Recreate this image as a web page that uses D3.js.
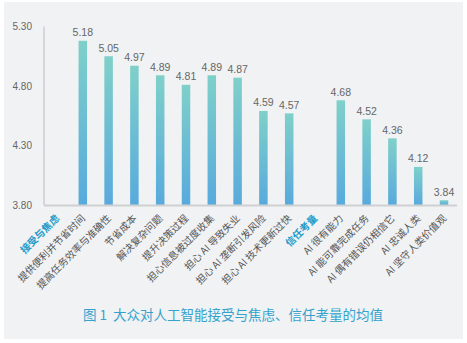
<!DOCTYPE html>
<meta charset="utf-8">
<script src="https://d3js.org/d3.v7.min.js"></script>
<style>
  body { margin: 0; background: #fff; }
</style>
<div id="my_dataviz"></div>
<script>

// categories (headers have no value)
var categories = ["接受与焦虑", "提供便利并节省时间", "提高任务效率与准确性", "节省成本", "解决复杂问题",
  "提升决策过程", "担心信息被过度收集", "担心 AI 导致失业", "担心 AI 垄断引发风险", "担心 AI 技术更新过快",
  "信任考量", "AI 很有能力", "AI 能可靠完成任务", "AI 偶有错误仍相信它", "AI 忠诚人类", "AI 坚守人类价值观"];
var values = [null, 5.18, 5.05, 4.97, 4.89, 4.81, 4.89, 4.87, 4.59, 4.57,
  null, 4.68, 4.52, 4.36, 4.12, 3.84];
var yTicks = [3.80, 4.30, 4.80, 5.30];
var title = "图 1  大众对人工智能接受与焦虑、信任考量的均值";

var width = 467, height = 343;

var svg = d3.select("#my_dataviz")
  .append("svg")
    .attr("width", width)
    .attr("height", height)
    .style("display", "block");

// grey panel
svg.append("rect")
  .attr("x", 4).attr("y", 2)
  .attr("width", 459).attr("height", 337)
  .style("fill", "#f0f2f4");

// gradient for the bars
var grad = svg.append("defs").append("linearGradient")
  .attr("id", "barGrad")
  .attr("x1", 0).attr("y1", 0).attr("x2", 0).attr("y2", 1);
grad.append("stop").attr("offset", "0%").attr("stop-color", "#7fd0c9");
grad.append("stop").attr("offset", "100%").attr("stop-color", "#58aadd");

var x = d3.scalePoint()
  .domain(categories)
  .range([57, 444]);

var y = d3.scaleLinear()
  .domain([3.8, 5.3])
  .range([205, 26.5]);

// Y axis
var yAxis = svg.append("g")
  .attr("transform", "translate(44,0)")
  .call(d3.axisLeft(y).tickValues(yTicks).tickFormat(d3.format(".2f")).tickSize(0).tickPadding(12));
yAxis.select(".domain").remove();
yAxis.selectAll("text")
  .style("font-family", "'Liberation Sans', Arial, sans-serif")
  .style("font-size", "10px")
  .style("fill", "#666");

svg.append("line")
  .attr("x1", 44).attr("x2", 44)
  .attr("y1", y(5.3)).attr("y2", y(3.8))
  .style("stroke", "#bbb").style("stroke-width", 1);

// bars
var barW = 8.5;
var bars = categories.map(function (c, i) { return { cat: c, val: values[i] }; })
  .filter(function (d) { return d.val !== null; });

svg.append("g")
  .selectAll("rect")
  .data(bars)
  .enter()
  .append("rect")
    .attr("x", function (d) { return x(d.cat) - barW / 2; })
    .attr("y", function (d) { return y(d.val); })
    .attr("width", barW)
    .attr("height", function (d) { return y(3.8) - y(d.val); })
    .style("fill", "url(#barGrad)");

// baseline
svg.append("line")
  .attr("x1", 44).attr("x2", 457)
  .attr("y1", y(3.8) + 0.5).attr("y2", y(3.8) + 0.5)
  .style("stroke", "#cfd0d2").style("stroke-width", 2);

// value labels
svg.append("g")
  .selectAll("text")
  .data(bars)
  .enter()
  .append("text")
    .attr("x", function (d) { return x(d.cat); })
    .attr("y", function (d) { return y(d.val) - 4.5; })
    .attr("text-anchor", "middle")
    .text(function (d) { return d.val.toFixed(2); })
    .style("font-family", "'Liberation Sans', Arial, sans-serif")
    .style("font-size", "10.5px")
    .style("fill", "#666");

// category labels, rotated
svg.append("g")
  .selectAll("text")
  .data(categories)
  .enter()
  .append("text")
    .attr("transform", function (d) { return "translate(" + (x(d) + 3) + ",219) rotate(-45)"; })
    .attr("text-anchor", "end")
    .text(function (d) { return d; })
    .style("font-family", "'Noto Sans CJK SC', sans-serif")
    .style("font-size", "10px")
    .style("font-weight", function (d, i) { return values[i] === null ? "bold" : "normal"; })
    .style("fill", function (d, i) { return values[i] === null ? "#1a9bc9" : "#555"; });

// title
svg.append("text")
  .attr("x", 233).attr("y", 320)
  .attr("text-anchor", "middle")
  .text(title)
  .style("font-family", "'Noto Sans CJK SC', sans-serif")
  .style("font-size", "13.5px")
  .style("fill", "#34a2cc")
  .style("white-space", "pre");

</script>
